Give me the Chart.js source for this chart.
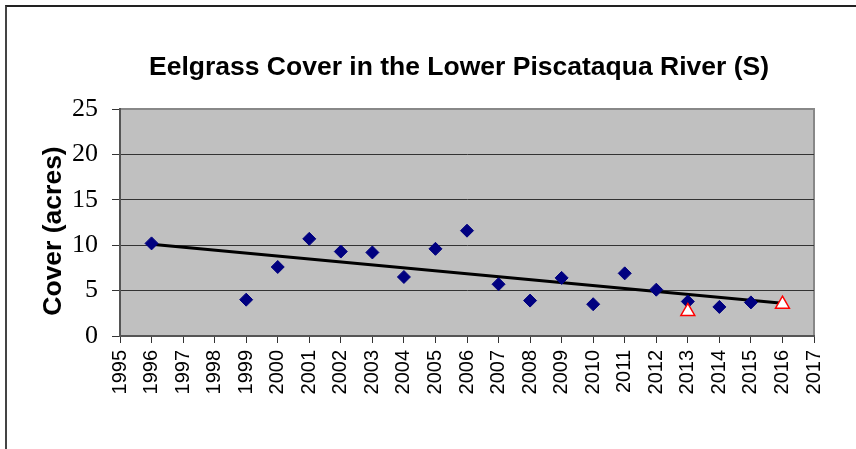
<!DOCTYPE html>
<html>
<head>
<meta charset="utf-8">
<title>Eelgrass Cover in the Lower Piscataqua River (S)</title>
<script src="https://cdn.jsdelivr.net/npm/chart.js@4/dist/chart.umd.min.js"></script>
<style>
  html, body { margin: 0; padding: 0; background: #fff; }
  .page { position: relative; width: 856px; height: 449px; overflow: hidden; }
  .frame { position: absolute; left: 5px; top: 5px; right: -10px; bottom: -10px;
           border-top: 2px solid #222; border-left: 2px solid #444; }
  #chart { position: absolute; left: 0; top: 0; }
</style>
</head>
<body>
<div class="page">
  <div class="frame"></div>
  <canvas id="chart" width="856" height="449"></canvas>
</div>
<script>
// observed cover (acres) by year
const years = [1996, 1999, 2000, 2001, 2002, 2003, 2004, 2005, 2006, 2007, 2008, 2009, 2010, 2011, 2012, 2013, 2014, 2015];
const cover = [10.2, 4.0, 7.6, 10.7, 9.3, 9.2, 6.5, 9.6, 11.6, 5.7, 3.9, 6.4, 3.5, 6.9, 5.1, 3.8, 3.2, 3.7];

// open triangles
const triYears = [2013, 2016];
const triCover = [2.7, 3.5];

// trend line end points
const trendYears = [1996, 2016];
const trendCover = [10.1, 3.6];

const yTicks = [0, 5, 10, 15, 20, 25];

const chartTitle = 'Eelgrass Cover in the Lower Piscataqua River (S)';
const yAxisTitle = 'Cover (acres)';

const pts = (xs, ys) => xs.map((x, i) => ({ x, y: ys[i] }));

Chart.defaults.font.family = "'Liberation Sans', Arial, sans-serif";
Chart.defaults.color = '#000';

// grey plot area + light frame on top/right
const plotBg = {
  id: 'plotBg',
  beforeDraw(chart) {
    const { ctx, chartArea: a } = chart;
    ctx.save();
    ctx.fillStyle = '#c0c0c0';
    ctx.fillRect(a.left, a.top, a.right - a.left, a.bottom - a.top);
    ctx.strokeStyle = '#888';
    ctx.lineWidth = 2;
    ctx.beginPath();
    ctx.moveTo(a.left, a.top);
    ctx.lineTo(a.right, a.top);
    ctx.lineTo(a.right, a.bottom);
    ctx.stroke();
    ctx.restore();
  }
};

// chart title and y axis title, placed like the original
const titles = {
  id: 'titles',
  afterDraw(chart) {
    const { ctx } = chart;
    ctx.save();
    ctx.fillStyle = '#000';
    ctx.textAlign = 'center';
    ctx.textBaseline = 'middle';
    ctx.font = "bold 26.5px 'Liberation Sans', Arial, sans-serif";
    ctx.fillText(chartTitle, 459, 68);
    ctx.translate(54, 231);
    ctx.rotate(-Math.PI / 2);
    ctx.font = "bold 26.5px 'Liberation Sans', Arial, sans-serif";
    ctx.fillText(yAxisTitle, 0, 0);
    ctx.restore();
  }
};

new Chart(document.getElementById('chart'), {
  type: 'scatter',
  data: {
    datasets: [
      {
        label: 'Triangles',
        data: pts(triYears, triCover),
        pointStyle: 'triangle',
        pointRadius: 8,
        pointBackgroundColor: '#fff',
        pointBorderColor: '#ff0000',
        pointBorderWidth: 1.5,
        order: 0,
      },
      {
        label: 'Cover',
        data: pts(years, cover),
        pointStyle: 'rectRot',
        pointRadius: 6.5,
        pointBackgroundColor: '#000080',
        pointBorderColor: '#000080',
        pointBorderWidth: 1,
        order: 1,
      },
      {
        type: 'line',
        label: 'Trend',
        data: pts(trendYears, trendCover),
        borderColor: '#000',
        borderWidth: 3,
        pointRadius: 0,
        fill: false,
        order: 2,
      },
    ],
  },
  options: {
    responsive: false,
    animation: false,
    devicePixelRatio: 1,
    layout: { padding: { left: 0, right: 42, top: 109, bottom: 0 } },
    plugins: {
      legend: { display: false },
      tooltip: { enabled: false },
      title: { display: false },
    },
    scales: {
      x: {
        type: 'linear',
        min: 1995,
        max: 2017,
        afterFit(s) { s.height = 113; },
        ticks: {
          stepSize: 1,
          autoSkip: false,
          minRotation: 90,
          maxRotation: 90,
          padding: 7,
          font: { size: 20 },
          color: '#000',
          callback: v => String(v),
        },
        grid: { drawOnChartArea: false, tickLength: 7, color: '#333', tickColor: '#333' },
        border: { color: '#555', width: 2 },
      },
      y: {
        min: 0,
        max: 25,
        afterFit(s) { s.width = 120; },
        afterBuildTicks(s) { s.ticks = yTicks.map(v => ({ value: v })); },
        ticks: {
          padding: 14,
          font: { family: "'Liberation Serif', 'Times New Roman', serif", size: 26 },
          color: '#000',
        },
        grid: {
          color: c => (c.tick && c.tick.value === 25) ? 'rgba(0,0,0,0)' : '#333',
          tickColor: '#333',
          tickLength: 8,
          lineWidth: 1,
        },
        border: { color: '#555', width: 2 },
      },
    },
  },
  plugins: [plotBg, titles],
});
</script>
</body>
</html>
